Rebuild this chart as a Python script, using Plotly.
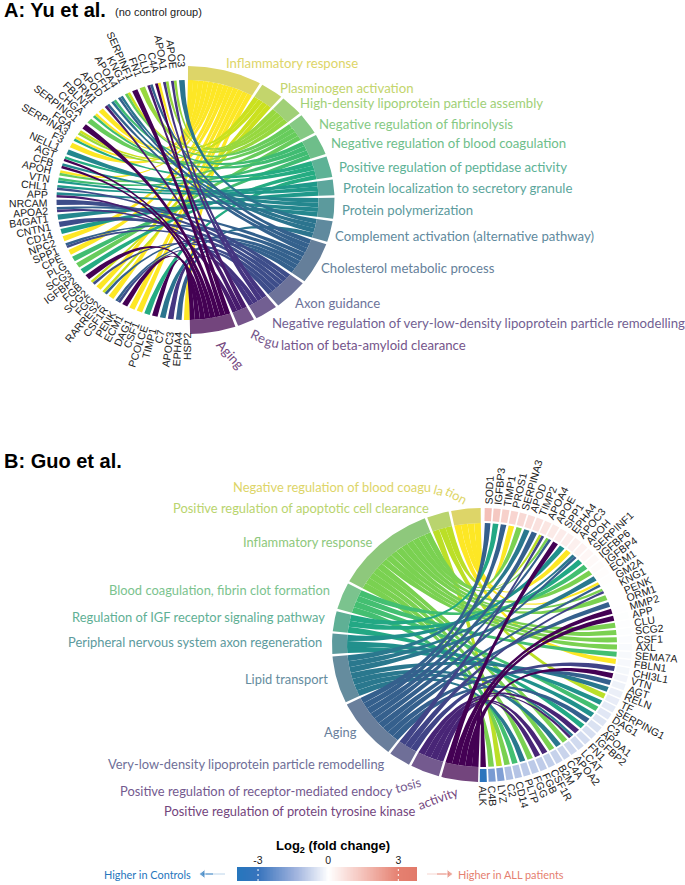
import numpy as np
import plotly.graph_objects as go
from plotly.colors import sample_colorscale

# Panel A: terms clockwise from the top, genes clockwise from the bottom
terms_a = [
    "Inflammatory response", "Plasminogen activation",
    "High-density lipoprotein particle assembly", "Negative regulation of fibrinolysis",
    "Negative regulation of blood coagulation", "Positive regulation of peptidase activity",
    "Protein localization to secretory granule", "Protein polymerization",
    "Complement activation (alternative pathway)", "Cholesterol metabolic process",
    "Axon guidance", "Negative regulation of very-low-density lipoprotein particle remodelling",
    "Regulation of beta-amyloid clearance", "Aging",
]
genes_a = [
    "HSP2", "EPHA4", "APOC3", "C7", "TIMP1", "PCOLCE", "CSF1", "DAG1", "ECM1", "PENK", "CSF1R",
    "RARRES2", "FGG", "SCG2", "FGB", "IGFBP2", "SCG3", "PLG", "CPE", "SPP1", "NPC2", "CD14",
    "CNTN1", "B4GAT1", "APOA2", "NRCAM", "APP", "CHL1", "VTN", "APOH", "CFB", "AGT", "NELL1",
    "F3", "SERPINA3", "FGA", "SERPING1", "CHGA", "FBLN1", "ORM1", "APOD", "CFH", "APOA4", "KNG1",
    "SERPINF1", "FN1", "CLU", "C4A", "APOA1", "APOE", "C3",
]
links_a = [
    [0], [9], [11], [8], [13], [5], [0], [0], [13], [10, 9], [0],
    [1, 9], [0], [1, 10], [13], [5], [3], [4], [0], [10, 9], [0], [6],
    [10], [7], [9, 11], [10], [7, 12], [6, 10], [4, 6], [3, 0], [7, 13], [13, 5], [7],
    [0], [0, 5], [1, 2], [13], [3], [4, 0], [0], [12, 9], [4, 8], [8, 9], [1, 3],
    [13], [2], [12, 9], [0, 13], [2, 11], [2, 11], [8],
]
term_colors_a = ["#FDE725", "#CBE11E", "#97D83F", "#67CC5C", "#40BC72", "#25AC82", "#1F998A",
                 "#24878E", "#2B748E", "#34618D", "#3D4D8A", "#453581", "#481C6E", "#440154"]
band_colors_a = ["#DDD568", "#C3D56C", "#A0D077", "#85C984", "#6EBE8A", "#5DB296", "#5CA69C",
                 "#5C9A9D", "#5F8A9E", "#657F9A", "#6D739A", "#725F92", "#75558B", "#73457D"]

# Panel B: terms counter-clockwise from the top, genes clockwise from the top
terms_b = [
    "Negative regulation of blood coagulation", "Positive regulation of apoptotic cell clearance",
    "Inflammatory response", "Blood coagulation, fibrin clot formation",
    "Regulation of IGF receptor signaling pathway", "Peripheral nervous system axon regeneration",
    "Lipid transport", "Aging", "Very-low-density lipoprotein particle remodelling",
    "Positive regulation of receptor-mediated endocytosis",
    "Positive regulation of protein tyrosine kinase activity",
]
genes_b = [
    "SOD1", "IGFBP3", "TIMP1", "PROS1", "SERPINA3", "APOD", "TIMP2", "APOA4", "APOE", "SPP1",
    "EPHA4", "APOC3", "APOH", "SERPINF1", "IGFBP6", "IGFBP4", "ECM1", "GM2A", "KNG1", "PENK",
    "ORM1", "MMP2", "APP", "CLU", "SCG2", "CSF1", "AXL", "SEMA7A", "FBLN1", "CHI3L1", "VTN",
    "AGT", "RELN", "TF", "SERPING1", "DAG1", "C3", "APOA1", "IGFBP2", "FN1", "LCAT", "APOA2",
    "C4A", "B2M", "CSF1R", "FGB", "FGG", "PLTP", "CD14", "C2", "LYZ", "C4B", "ALK",
]
links_b = [
    [7], [4], [7], [0], [2], [6], [7], [8, 1], [2, 7], [10],
    [5], [0], [6, 7], [4], [3], [2], [6], [0, 7], [8, 2], [2],
    [7], [10], [10], [2], [2], [2], [2], [3], [0], [8], [10],
    [7], [6], [1], [5], [3], [5], [7], [4], [9], [6, 9], [2],
    [6], [2], [9], [9], [2], [6], [3], [2], [1], [2], [10],
]
fold_change_b = [
    1.5, 1.3, 1.1, 1.0, 0.9, 0.8, 0.7, 0.6, 0.5, 0.45,
    0.4, 0.35, 0.3, 0.2, 0.15, 0.1, 0.05, 0.03, 0.0, 0.0,
    0.0, -0.02, -0.03, -0.04, -0.05, -0.06, -0.1, -0.12, -0.14, -0.16, -0.2,
    -0.25, -0.3, -0.35, -0.4, -0.45, -0.5, -0.55, -0.6, -0.65, -0.7, -0.75,
    -0.8, -0.85, -0.9, -0.95, -1.0, -1.0, -1.1, -1.2, -1.9, -2.0, -3.6,
]
term_colors_b = ["#FDE725", "#BBDF27", "#7AD151", "#43BF71", "#22A884", "#21908C", "#2A788E",
                 "#35608D", "#414487", "#482576", "#440154"]
band_colors_b = ["#DDD568", "#B9D46E", "#8EC87C", "#7BC38E", "#5FB095", "#5C9A9D", "#658C9E",
                 "#6A7F9C", "#6F6F98", "#745A8F", "#73457D"]

# Legend scale
fc_ticks = [-3, 0, 3]
fc_min, fc_max = -3.9, 3.8
fc_colorscale = [[0, "#2676BD"], [0.117, "#3874BD"], [0.312, "#9AAFDC"], [0.506, "#FFFFFF"],
                 [0.701, "#F4C0B8"], [0.896, "#E58070"], [1, "#E27A6A"]]

fig = go.Figure()


def ring_xy(theta, rx, ry, cx, cy):
    t = np.radians(theta)
    return cx + rx * np.sin(t), cy - ry * np.cos(t)


def add_poly(x, y, color):
    fig.add_trace(go.Scatter(x=x, y=y, mode="lines", fill="toself", fillcolor=color,
                             line=dict(width=0), hoverinfo="skip", showlegend=False))


def add_sector(t0, t1, r_in, r_out, color, cx, cy):
    th = np.linspace(t0, t1, max(4, int(abs(t1 - t0)) + 4))
    xo, yo = ring_xy(th, r_out[0], r_out[1], cx, cy)
    xi, yi = ring_xy(th[::-1], r_in[0], r_in[1], cx, cy)
    add_poly(np.r_[xo, xi, xo[0]], np.r_[yo, yi, yo[0]], color)


def add_ribbon(a0, a1, g0, g1, r, color, cx, cy):
    # two quadratic curves bent through the centre, like GOChord does
    s = np.linspace(0, 1, 30)
    ax, ay = ring_xy(a0, r[0], r[1], cx, cy)
    bx, by = ring_xy(g1, r[0], r[1], cx, cy)
    cx2, cy2 = ring_xy(g0, r[0], r[1], cx, cy)
    dx, dy = ring_xy(a1, r[0], r[1], cx, cy)
    x1 = (1 - s) ** 2 * ax + 2 * s * (1 - s) * cx + s ** 2 * bx
    y1 = (1 - s) ** 2 * ay + 2 * s * (1 - s) * cy + s ** 2 * by
    x2 = (1 - s) ** 2 * cx2 + 2 * s * (1 - s) * cx + s ** 2 * dx
    y2 = (1 - s) ** 2 * cy2 + 2 * s * (1 - s) * cy + s ** 2 * dy
    add_poly(np.r_[x1, x2, x1[0]], np.r_[y1, y2, y1[0]], color)


def gene_label(name, theta, rx, ry, cx, cy):
    x, y = ring_xy(theta, rx, ry, cx, cy)
    h = 6.3  # half the text height
    if theta < 180:
        ang = theta - 90
        s, c = abs(np.sin(np.radians(ang))), np.cos(np.radians(ang))
        x -= h * s
        y += h * c if ang < 0 else -h * c
        xa = "left"
    else:
        ang = theta - 270
        s, c = abs(np.sin(np.radians(ang))), np.cos(np.radians(ang))
        x += h * s
        y += h * c if ang > 0 else -h * c
        xa = "right"
    ya = "bottom" if abs(theta - 180) > 90 else "top"
    fig.add_annotation(x=x, y=y, text=name, textangle=ang, showarrow=False, xanchor=xa, yanchor=ya,
                       borderpad=0, borderwidth=0,
                       font=dict(family="Liberation Sans", size=10.5, color="#222222"))


def chord(genes, links, terms, colors, bands, term_span, gene_span, reverse_terms, cx, cy, r_in, r_out,
          gap=1.1, gene_fill=0.7):
    n_links = [sum(t in ln for ln in links) for t in range(len(terms))]
    unit = (term_span[1] - term_span[0] - gap * (len(terms) - 1)) / sum(n_links)
    # term spans, clockwise on the page
    spans = {}
    pos = term_span[0]
    for t in (range(len(terms))[::-1] if reverse_terms else range(len(terms))):
        spans[t] = (pos, pos + n_links[t] * unit)
        pos += n_links[t] * unit + gap
    step = (gene_span[1] - gene_span[0]) / (len(genes) - 1)
    centers = [gene_span[0] + i * step for i in range(len(genes))]
    # slice each gene end, lower clockwise position goes to the later term
    gene_slice = {}
    for i, ln in enumerate(links):
        order = sorted(ln, key=lambda t: -spans[t][0])
        w = step * gene_fill / len(order)
        for k, t in enumerate(order):
            g0 = centers[i] - step * gene_fill / 2 + k * w
            gene_slice[(i, t)] = (g0, g0 + w)
    # ribbons, yellow first and dark last
    for t in range(len(terms)):
        members = sorted([i for i, ln in enumerate(links) if t in ln], key=lambda i: -centers[i])
        for k, i in enumerate(members):
            a0 = spans[t][0] + k * unit
            g0, g1 = gene_slice[(i, t)]
            add_ribbon(a0, a0 + unit, g0, g1, r_in, colors[t], cx, cy)
    for t in range(len(terms)):
        add_sector(spans[t][0], spans[t][1], r_in, r_out, bands[t], cx, cy)
    return centers, step


# ---- panel A ----
cxa, cya = 187.5, 200
centers_a, _ = chord(genes_a, links_a, terms_a, term_colors_a, band_colors_a, (0.2, 179), (180.3, 357.5),
                     False, cxa, cya, (131, 120), (147, 134))
for g, th in zip(genes_a, centers_a):
    gene_label(g, th, 140, 132, cxa, cya)

# ---- panel B ----
cxb, cyb = 482, 645
centers_b, step_b = chord(genes_b, links_b, terms_b, term_colors_b, band_colors_b, (181.5, 359.5), (2.4, 179.5),
                          True, cxb, cyb, (135, 122), (150, 137), gap=1.0)
fc_colors = sample_colorscale(fc_colorscale, [(v - fc_min) / (fc_max - fc_min) for v in fold_change_b])
for th, col in zip(centers_b, fc_colors):
    add_sector(th - step_b * 0.4, th + step_b * 0.4, (137, 124), (150, 137), col, cxb, cyb)
for g, th in zip(genes_b, centers_b):
    gene_label(g, th, 154, 141, cxb, cyb)


def term_label(text, x, y, color, angle=0, anchor="left", size=13.2):
    fig.add_annotation(x=x, y=y, text=text, showarrow=False, xanchor=anchor, yanchor="middle", textangle=angle,
                       borderpad=0, font=dict(family="Lato", size=size, color=color))


pos_a = [(225, 63), (279, 88), (299, 103), (318, 124), (330, 143), (338, 167), (342, 188),
         (341, 210), (334, 236), (320, 268), (294, 303), (271, 323)]
for i, (x, y) in enumerate(pos_a):
    term_label(terms_a[i], x, y, band_colors_a[i])
term_label("Re", 258, 336, band_colors_a[12], 25, "center")
term_label("gu", 272, 342, band_colors_a[12], 12, "center")
term_label("lation of beta-amyloid clearance", 280, 345, band_colors_a[12])
term_label("Aging", 230, 354, band_colors_a[13], 48, "center")

pos_b = {1: (172, 508), 2: (242, 542), 3: (108, 590), 4: (71, 617), 5: (67, 642), 6: (244, 679), 7: (323, 732), 8: (107, 764)}
for i, (x, y) in pos_b.items():
    term_label(terms_b[i], x, y, band_colors_b[i], size=12.9)
term_label("Negative regulation of blood coagu", 232, 487, band_colors_b[0], size=12.9)
term_label("la", 438, 490, band_colors_b[0], 15, "center", 12.9)
term_label("tion", 456, 495, band_colors_b[0], 28, "center", 12.9)
term_label("Positive regulation of receptor-mediated endocy", 119, 791, band_colors_b[9], size=12.9)
term_label("tosis", 408, 785, band_colors_b[9], -15, "center", 12.9)
term_label("Positive regulation of protein tyrosine kinase", 163, 811, band_colors_b[10], size=12.9)
term_label("activity", 438, 798, band_colors_b[10], -20, "center", 12.9)

# titles
for txt, x, y in [("<b>A: Yu et al.</b>", 2, 10), ("<b>B: Guo et al.</b>", 2, 461)]:
    fig.add_annotation(x=x, y=y, text=txt, showarrow=False, xanchor="left", yanchor="middle",
                       font=dict(family="Liberation Sans", size=20, color="black"))
fig.add_annotation(x=113, y=12, text="(no control group)", showarrow=False, xanchor="left", yanchor="middle",
                   font=dict(family="Liberation Sans", size=11, color="#222222"))

# legend bar drawn on its own small axes
fc_steps = np.linspace(fc_min, fc_max, 120)
fig.add_trace(go.Heatmap(x=fc_steps, y=[0, 1], z=[fc_steps, fc_steps], colorscale=fc_colorscale,
                         zmin=fc_min, zmax=fc_max, showscale=False, hoverinfo="skip",
                         xaxis="x2", yaxis="y2", zsmooth="best"))
for v in fc_ticks:
    fig.add_trace(go.Scatter(x=[v, v], y=[0, 1], mode="lines", line=dict(color="white", width=1, dash="2px,3px"),
                             hoverinfo="skip", showlegend=False, xaxis="x2", yaxis="y2"))
fig.add_annotation(x=333, y=846, text="<b>Log<sub>2</sub> (fold change)</b>", showarrow=False, yanchor="middle",
                   font=dict(family="Liberation Sans", size=13, color="black"))
fig.add_annotation(x=193, y=874, text="Higher in Controls", showarrow=False, xanchor="right", yanchor="middle",
                   font=dict(family="Lato", size=10.9, color="#2676BD"))
fig.add_annotation(x=456, y=874, text="Higher in ALL patients", showarrow=False, xanchor="left", yanchor="middle",
                   font=dict(family="Lato", size=10.9, color="#E58070"))
# small arrows beside the legend: pale tail, then a stronger head
for tail, mid, head, col, pale, sym in [(225, 213, 203, "#2676BD", "#BBD4EA", "triangle-left"),
                                        (427, 437, 449, "#E58070", "#F6D5CF", "triangle-right")]:
    fig.add_trace(go.Scatter(x=[tail, mid], y=[874, 874], mode="lines", line=dict(color=pale, width=1),
                             hoverinfo="skip", showlegend=False))
    fig.add_trace(go.Scatter(x=[mid, head], y=[874, 874], mode="lines+markers", line=dict(color=col, width=1),
                             marker=dict(symbol=["circle", sym], size=[0, 8], color=col),
                             hoverinfo="skip", showlegend=False))

fig.update_layout(
    width=685, height=885, autosize=False, margin=dict(l=0, r=0, t=0, b=0),
    paper_bgcolor="white", plot_bgcolor="rgba(0,0,0,0)", showlegend=False,
    xaxis=dict(range=[0, 685], visible=False, fixedrange=True, domain=[0, 1]),
    yaxis=dict(range=[885, 0], visible=False, fixedrange=True, domain=[0, 1]),
    xaxis2=dict(domain=[237 / 685, 417 / 685], range=[fc_min, fc_max], anchor="y2", side="top",
                tickvals=fc_ticks, ticktext=[str(v) for v in fc_ticks], ticks="", showgrid=False,
                zeroline=False, showline=False,
                tickfont=dict(family="Liberation Sans", size=10.5, color="#222222")),
    yaxis2=dict(domain=[1 - 881 / 885, 1 - 867 / 885], range=[0, 1], anchor="x2", visible=False),
)

# the page's default body margin would push the 685x885 figure out of the window
fig.write_html("out.html", config={"displayModeBar": False},
               post_script="document.body.style.margin='0';")
